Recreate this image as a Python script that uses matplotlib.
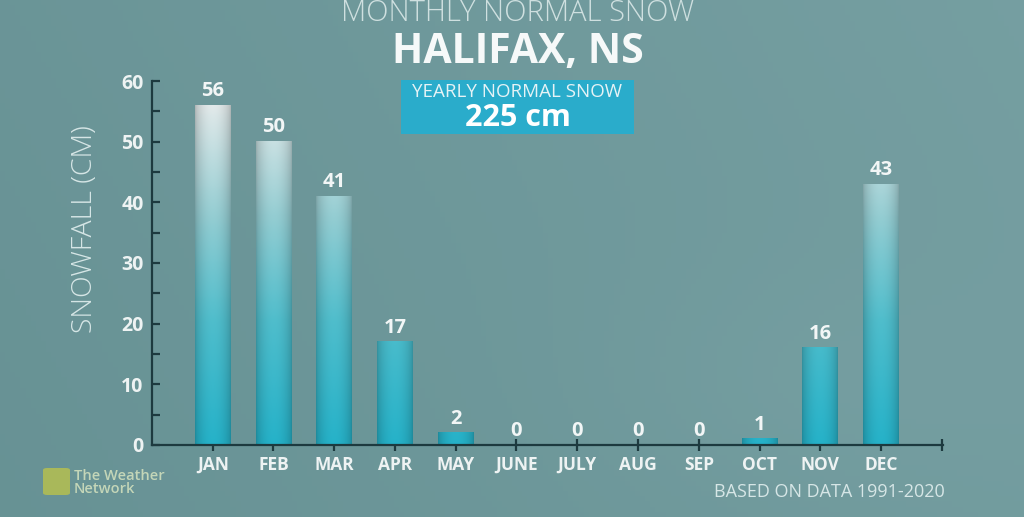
import numpy as np
import matplotlib.pyplot as plt
from matplotlib.colors import LinearSegmentedColormap
from matplotlib.patches import FancyBboxPatch

months = ['JAN', 'FEB', 'MAR', 'APR', 'MAY', 'JUNE', 'JULY', 'AUG', 'SEP', 'OCT', 'NOV', 'DEC']
snow = [56, 50, 41, 17, 2, 0, 0, 0, 0, 1, 16, 43]
yearly_total = 225

FONT = 'Open Sans'
fig = plt.figure(figsize=(10.24, 5.17), dpi=100)

# background gradient
bg = fig.add_axes([0, 0, 1, 1], zorder=-10)
gx, gy = np.meshgrid(np.linspace(0, 1, 200), np.linspace(0, 1, 100))
dark = np.array([0.37, 0.54, 0.55])
light = np.array([0.49, 0.65, 0.66])
t = np.clip(0.4 + 0.35 * gx - 0.1 * gy + 0.1 * np.exp(-((gx - 0.8) ** 2 + (gy - 0.75) ** 2) / 0.05), 0, 1)
bg.imshow(dark + (light - dark) * t[..., None], extent=[0, 1, 0, 1], aspect='auto', origin='upper')
bg.axis('off')

ax = fig.add_axes([0.1484, 0.1393, 0.9209 - 0.1484, 0.8433 - 0.1393])
ax.patch.set_alpha(0)
ax.set_ylim(0, 60)

# cylinder-like bars: colour fades from teal to white-grey with height
bar_cmap = LinearSegmentedColormap.from_list(
    'snowbar', [(0, '#24abc1'), (0.35, '#4cb6c4'), (0.65, '#8ec5ca'), (1.0, '#e0e3e3')])
width = 0.59
for i, v in enumerate(snow):
    if v <= 0:
        continue
    yy = np.linspace(0, v, 120)
    xx = np.linspace(0, 1, 60)
    cols = bar_cmap(yy / 58)[:, None, :3]
    shade = 0.80 + 0.24 * np.sin(np.pi * xx) ** 0.6
    img = np.clip(cols * shade[None, :, None], 0, 1)
    ax.imshow(img, extent=[i - width / 2, i + width / 2, 0, v], origin='lower',
              aspect='auto', zorder=2, interpolation='bilinear')

for i, v in enumerate(snow):
    ax.text(i, v + 0.7, str(v), ha='center', va='bottom', fontsize=14.5,
            fontweight='bold', color='#f2f6f6', family=FONT, zorder=3)

spine_c = '#1d3a3f'
for s in ['top', 'right']:
    ax.spines[s].set_visible(False)
for s in ['left', 'bottom']:
    ax.spines[s].set_color(spine_c)
    ax.spines[s].set_linewidth(1.6)

ax.set_yticks(range(0, 61, 10))
ax.set_yticks(range(5, 60, 10), minor=True)
ax.tick_params(axis='y', which='both', direction='in', length=6, width=1.6, color=spine_c,
               labelsize=14, labelcolor='#eef3f3', pad=6)
ax.set_xticks(list(range(12)) + [12])
ax.set_xticklabels(months + [''])
ax.tick_params(axis='x', direction='inout', length=8, width=1.6, color=spine_c,
               labelsize=12.5, labelcolor='#eef3f3', pad=4)
for lab in ax.get_yticklabels() + ax.get_xticklabels():
    lab.set_fontweight('bold')
    lab.set_family(FONT)
ax.set_xlim(-1, 12.02)

fig.text(85 / 1024, 1 - 229 / 517, 'SNOWFALL (CM)', rotation=90, ha='center', va='center',
         fontsize=20.5, color='#d6e6e6', family=FONT, fontweight='light')

# titles
cx = 517.5 / 1024
fig.text(cx, 1 - 13 / 517, 'MONTHLY NORMAL SNOW', ha='center', va='center', fontsize=21,
         color='#cfe0e0', family=FONT, fontweight='light')
fig.text(cx, 1 - 52 / 517, 'HALIFAX, NS', ha='center', va='center', fontsize=29.5,
         color='#f6f9f9', family=FONT, fontweight='bold')
fig.patches.append(FancyBboxPatch((401 / 1024, 1 - 134 / 517), 233 / 1024, 54 / 517,
                                  boxstyle='square,pad=0', transform=fig.transFigure,
                                  facecolor='#2aaccb', edgecolor='none', zorder=5))
fig.text(cx, 1 - 92 / 517, 'YEARLY NORMAL SNOW', ha='center', va='center', fontsize=13.5,
         color='#e6f3f6', family=FONT, zorder=6)
fig.text(cx, 1 - 118 / 517, f'{yearly_total} cm', ha='center', va='center', fontsize=22,
         color='#ffffff', family=FONT, fontweight='bold', zorder=6)

fig.text(0.923, 1 - 492 / 517, 'BASED ON DATA 1991-2020', ha='right', va='center', fontsize=13,
         color='#d6e6e6', family=FONT)

# logo
fig.patches.append(FancyBboxPatch((43 / 1024, 1 - 495 / 517), 27 / 1024, 27 / 517,
                                  boxstyle='round,pad=0,rounding_size=0.004',
                                  transform=fig.transFigure, facecolor='#a9b85a',
                                  edgecolor='none', zorder=5))
fig.text(74 / 1024, 1 - 476 / 517, 'The Weather', ha='left', va='center', fontsize=10.5,
         color='#c4d6b8', family=FONT, fontweight='semibold')
fig.text(74 / 1024, 1 - 489 / 517, 'Network', ha='left', va='center', fontsize=10.5,
         color='#c4d6b8', family=FONT, fontweight='semibold')

fig.savefig('out.png', dpi=100)
